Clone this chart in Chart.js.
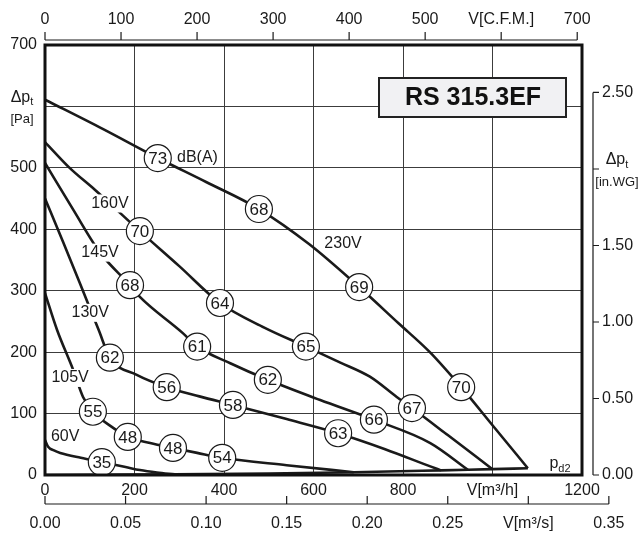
<!DOCTYPE html>
<html>
<head>
<meta charset="utf-8">
<script src="https://cdn.jsdelivr.net/npm/chart.js@4/dist/chart.umd.min.js"></script>
<style>
  html, body { margin: 0; padding: 0; background: #fff; }
  #wrap { width: 641px; height: 544px; position: relative; }
</style>
</head>
<body>
<div id="wrap"><canvas id="fanChart"></canvas></div>
<script>
// fan curves, flow in m3/h and total pressure in Pa
const flow230 = [0, 130, 252, 360, 478, 590, 702, 790, 860, 930, 1000, 1079];
const pres230 = [611, 563, 516, 477, 433, 376, 306, 247, 200, 143, 81, 11];
const flow160 = [0, 55, 112, 212, 300, 391, 490, 583, 660, 726, 786, 820, 900, 1000];
const pres160 = [542, 500, 464, 397, 340, 280, 240, 209, 183, 160, 127, 109, 65, 9.5];
const flow145 = [0, 63, 123, 190, 212, 308, 340, 414, 498, 615, 735, 861, 945];
const pres145 = [508, 432, 362, 309, 290, 231, 209, 182, 155, 122, 90, 52, 8.5];
const flow130 = [0, 40, 78, 120, 145, 205, 272, 345, 420, 540, 655, 760, 861, 885];
const pres130 = [450, 380, 312, 236, 191, 163, 143, 128, 114, 91, 68, 42, 14, 7.5];
const flow105 = [0, 27, 63, 85, 107, 150, 185, 235, 286, 340, 396, 540, 690];
const pres105 = [296, 236, 171, 127, 103, 78, 62, 52, 44, 36, 28, 16, 4.5];
const flow60 = [0, 7, 20, 34, 80, 127, 180, 212, 250, 290];
const pres60 = [57, 46, 40, 36, 28, 21, 13, 8, 4, 1];
// dynamic pressure pd2
const flowPd = [0, 290, 500, 690, 885, 945, 1000, 1079];
const presPd = [0, 1, 2.5, 4.5, 7.5, 8.5, 9.5, 11];

// sound level markers dB(A)
const dbFlow = [252, 478, 702, 930, 212, 391, 583, 820, 190, 340, 498, 735, 145, 272, 420, 655, 107, 185, 286, 396, 127];
const dbPres = [516, 433, 306, 143, 397, 280, 209, 109, 309, 209, 155, 90, 191, 143, 114, 68, 103, 62, 44, 28, 21];
const dbLevel = [73, 68, 69, 70, 70, 64, 65, 67, 68, 61, 62, 66, 62, 56, 58, 63, 55, 48, 48, 54, 35];

// voltage labels
const voltText = ['230V', '160V', '145V', '130V', '105V', '60V'];
const voltFlow = [666, 145, 123, 101, 56, 45];
const voltPres = [376, 442, 362, 264, 158, 62];

// axis ticks
const paTicks = [0, 100, 200, 300, 400, 500, 600, 700];
const m3hTicks = [0, 200, 400, 600, 800, 1000, 1200];
const cfmTicks = [0, 100, 200, 300, 400, 500, 600, 700];
const m3sTicks = [0, 0.05, 0.1, 0.15, 0.2, 0.25, 0.3, 0.35];
const inwgTicks = [0, 0.5, 1, 1.5, 2, 2.5];

const CFM = 1.69901;   // m3/h per cfm
const INWG = 249.089;  // Pa per in.WG
const fontFam = "'Liberation Sans', Arial, sans-serif";
const ink = '#1a1a1a';

function pts(xs, ys) {
  return xs.map((x, i) => ({ x: x, y: ys[i] }));
}

function curve(xs, ys) {
  return {
    data: pts(xs, ys),
    showLine: true,
    borderColor: ink,
    borderWidth: 2.6,
    pointRadius: 0,
    cubicInterpolationMode: 'monotone',
    order: 2
  };
}

function fixTicks(list) {
  return function (s) { s.ticks = list.map(v => ({ value: v })); };
}

// draws the secondary axis lines, titles and text labels
const extras = {
  id: 'extras',
  afterDatasetsDraw(chart) {
    const { ctx, chartArea: a, scales } = chart;
    const sx = scales.x, sy = scales.y;
    ctx.save();

    // dB(A) numbers
    ctx.fillStyle = ink;
    ctx.font = '17px ' + fontFam;
    ctx.textAlign = 'center';
    ctx.textBaseline = 'middle';
    chart.getDatasetMeta(0).data.forEach((p, i) => {
      ctx.fillText(String(dbLevel[i]), p.x, p.y + 1);
    });
    ctx.font = '16px ' + fontFam;
    ctx.textAlign = 'left';
    ctx.fillText('dB(A)', sx.getPixelForValue(295), sy.getPixelForValue(516));

    // voltage labels, blanking the line under them
    voltText.forEach((t, i) => {
      const px = sx.getPixelForValue(voltFlow[i]);
      const py = sy.getPixelForValue(voltPres[i]);
      const w = ctx.measureText(t).width;
      ctx.fillStyle = '#fff';
      if (i > 0 && i < 5) ctx.fillRect(px - w / 2 - 2, py - 9, w + 4, 18);
      ctx.fillStyle = ink;
      ctx.textAlign = 'center';
      ctx.fillText(t, px, py);
    });

    // plot frame
    ctx.strokeStyle = '#111';
    ctx.lineWidth = 3;
    ctx.strokeRect(a.left, a.top, a.right - a.left, a.bottom - a.top);

    // model box
    ctx.fillStyle = '#f1f1f3';
    ctx.fillRect(379, 78, 187, 39);
    ctx.strokeStyle = '#222';
    ctx.lineWidth = 2;
    ctx.strokeRect(379, 78, 187, 39);
    ctx.fillStyle = '#111';
    ctx.font = 'bold 25px ' + fontFam;
    ctx.textAlign = 'center';
    ctx.fillText('RS 315.3EF', 473, 98);

    ctx.strokeStyle = ink;
    ctx.lineWidth = 1.2;
    // top cfm axis
    const st = scales.xTop;
    const yt = 40;
    ctx.beginPath();
    ctx.moveTo(st.getPixelForValue(0), yt);
    ctx.lineTo(st.getPixelForValue(700), yt);
    cfmTicks.forEach(v => {
      const px = st.getPixelForValue(v);
      ctx.moveTo(px, yt);
      ctx.lineTo(px, yt - 8);
    });
    // bottom m3/s axis
    const sb = scales.x3;
    const yb = 504;
    ctx.moveTo(sb.getPixelForValue(0), yb);
    ctx.lineTo(sb.getPixelForValue(0.35), yb);
    m3sTicks.forEach(v => {
      const px = sb.getPixelForValue(v);
      ctx.moveTo(px, yb);
      ctx.lineTo(px, yb - 8);
    });
    // right in.WG axis
    const sr = scales.yR;
    const xr = 593;
    ctx.moveTo(xr, sr.getPixelForValue(0));
    ctx.lineTo(xr, sr.getPixelForValue(2.5));
    inwgTicks.forEach(v => {
      const py = sr.getPixelForValue(v);
      ctx.moveTo(xr, py);
      ctx.lineTo(xr + 6, py);
    });
    ctx.stroke();

    // axis titles with subscripts
    function sub(main, small, cx, cy, size) {
      ctx.font = size + 'px ' + fontFam;
      const w1 = ctx.measureText(main).width;
      ctx.font = Math.round(size * 0.68) + 'px ' + fontFam;
      const w2 = ctx.measureText(small).width;
      const x0 = cx - (w1 + w2) / 2;
      ctx.textAlign = 'left';
      ctx.font = size + 'px ' + fontFam;
      ctx.fillText(main, x0, cy);
      ctx.font = Math.round(size * 0.68) + 'px ' + fontFam;
      ctx.fillText(small, x0 + w1, cy + 5);
    }
    ctx.fillStyle = ink;
    ctx.textBaseline = 'middle';
    sub('\u0394p', 't', 22, sy.getPixelForValue(600) - 9, 16);
    ctx.font = '13px ' + fontFam;
    ctx.textAlign = 'center';
    ctx.fillText('[Pa]', 22, sy.getPixelForValue(600) + 13);

    sub('\u0394p', 't', 617, sr.getPixelForValue(2) - 9, 16);
    ctx.font = '13px ' + fontFam;
    ctx.textAlign = 'center';
    ctx.fillText('[in.WG]', 617, sr.getPixelForValue(2) + 13);

    sub('p', 'd2', 560, sy.getPixelForValue(18), 16);

    ctx.restore();
  }
};

const tickFont = { family: fontFam, size: 16 };

new Chart(document.getElementById('fanChart'), {
  type: 'scatter',
  data: {
    datasets: [
      {
        data: pts(dbFlow, dbPres),
        pointRadius: 13.5,
        pointHoverRadius: 13.5,
        pointBackgroundColor: '#fff',
        pointBorderColor: ink,
        pointBorderWidth: 1.2,
        order: 0
      },
      curve(flow230, pres230),
      curve(flow160, pres160),
      curve(flow145, pres145),
      curve(flow130, pres130),
      curve(flow105, pres105),
      curve(flow60, pres60),
      curve(flowPd, presPd)
    ]
  },
  options: {
    responsive: true,
    maintainAspectRatio: false,
    animation: false,
    layout: { padding: 0 },
    plugins: {
      legend: { display: false },
      tooltip: { enabled: false }
    },
    scales: {
      x: {
        type: 'linear',
        position: 'bottom',
        weight: 0,
        min: 0,
        max: 1200,
        afterBuildTicks: fixTicks(m3hTicks),
        afterFit: s => { s.height = 25; },
        grid: { color: '#3c3c3c', lineWidth: 1, drawTicks: false },
        border: { display: false },
        ticks: {
          autoSkip: false, maxRotation: 0, padding: 6, color: ink, font: tickFont,
          callback: v => v === 1000 ? 'V[m³/h]' : String(v)
        }
      },
      x3: {
        type: 'linear',
        position: 'bottom',
        weight: 1,
        min: 0,
        max: 1200 / 3600,
        afterBuildTicks: fixTicks(m3sTicks),
        afterFit: s => { s.height = 44; },
        grid: { display: false, drawTicks: false },
        border: { display: false },
        ticks: {
          autoSkip: false, maxRotation: 0, padding: 14, color: ink, font: tickFont,
          callback: v => Math.abs(v - 0.3) < 1e-6 ? 'V[m³/s]' : v.toFixed(2)
        }
      },
      xTop: {
        type: 'linear',
        position: 'top',
        min: 0,
        max: 1200 / CFM,
        afterBuildTicks: fixTicks(cfmTicks),
        afterFit: s => { s.height = 45; },
        grid: { display: false, drawTicks: false },
        border: { display: false },
        ticks: {
          autoSkip: false, maxRotation: 0, padding: 16, color: ink, font: tickFont,
          callback: v => v === 600 ? 'V[C.F.M.]' : String(v)
        }
      },
      y: {
        type: 'linear',
        position: 'left',
        min: 0,
        max: 700,
        afterBuildTicks: fixTicks(paTicks),
        afterFit: s => { s.width = 45; },
        grid: { color: '#3c3c3c', lineWidth: 1, drawTicks: false },
        border: { display: false },
        ticks: {
          autoSkip: false, padding: 8, color: ink, font: tickFont,
          callback: v => v === 600 ? '' : String(v)
        }
      },
      yR: {
        type: 'linear',
        position: 'right',
        min: 0,
        max: 700 / INWG,
        afterBuildTicks: fixTicks(inwgTicks),
        afterFit: s => { s.width = 59; },
        grid: { display: false, drawTicks: false },
        border: { display: false },
        ticks: {
          autoSkip: false, padding: 20, color: ink, font: tickFont,
          callback: v => v === 2 ? '' : v.toFixed(2)
        }
      }
    }
  },
  plugins: [extras]
});
</script>
</body>
</html>
